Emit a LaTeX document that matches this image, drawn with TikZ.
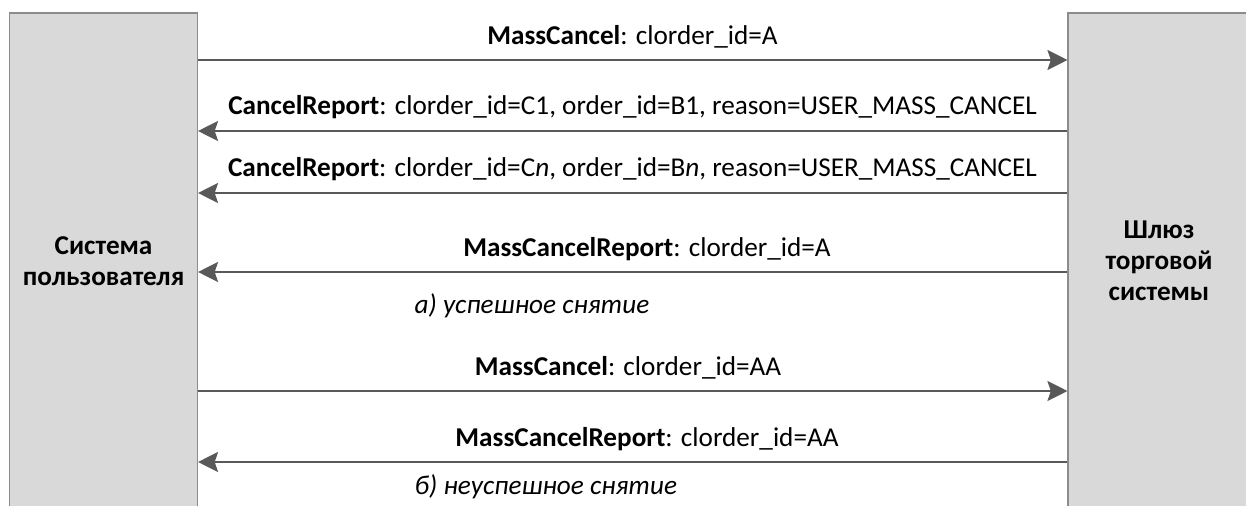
\documentclass[tikz,border=0pt]{standalone}
\usepackage{fontspec}
\setmainfont{Carlito}
\usetikzlibrary{arrows.meta}
\definecolor{boxgray}{HTML}{D9D9D9}
\definecolor{boxline}{HTML}{8C8C8C}
\definecolor{msggray}{HTML}{595959}
\tikzset{
  party/.style={draw=boxline, fill=boxgray, line width=0.8pt, inner sep=0pt},
  partytext/.style={font=\fontsize{20.4}{23.4}\selectfont\bfseries, align=center},
  msg/.style={draw=msggray, line width=1.5pt,
    -{Stealth[length=15pt, width=15pt, inset=2.5pt]}},
  lbl/.style={font=\fontsize{20.4}{24}\selectfont, anchor=base},
  caption/.style={font=\fontsize{20.4}{24}\selectfont\itshape, anchor=base west}
}
\begin{document}
\begin{tikzpicture}[x=0.75pt, y=-0.75pt]
  \useasboundingbox (0,0) rectangle (1246,506);
  \clip (0,0) rectangle (1246,506);
  % participants
  \node[party, minimum width=141pt, minimum height=380.25pt] (user) at (103.5,266.5) {};
  \node[party, minimum width=136.5pt, minimum height=380.25pt] (gate) at (1159,266.5) {};
  \node[partytext] (usertext) at (103.5,261) {Система\\пользователя};
  \node[partytext] (gatetext) at (1159,261) {Шлюз\\торговой\\системы};
  % a) successful cancel
  \draw[msg] (user.east |- 0,60) -- (gate.west |- 0,60);
  \node[lbl] (m1) at (632.5,45) {\textbf{MassCancel}: clorder\_id=A};
  \draw[msg] (gate.west |- 0,131) -- (user.east |- 0,131);
  \node[lbl] (m2) at (632.5,115) {\textbf{CancelReport}: clorder\_id=C1, order\_id=B1, reason=USER\_MASS\_CANCEL};
  \draw[msg] (gate.west |- 0,193) -- (user.east |- 0,193);
  \node[lbl] (m3) at (632.5,177) {\textbf{CancelReport}: clorder\_id=C\textit{n}, order\_id=B\textit{n}, reason=USER\_MASS\_CANCEL};
  \draw[msg] (gate.west |- 0,272) -- (user.east |- 0,272);
  \node[lbl] (m4) at (647,256) {\textbf{MassCancelReport}: clorder\_id=A};
  \node[caption] (capa) at (410,313) {а) успешное снятие};
  % b) unsuccessful cancel
  \draw[msg] (user.east |- 0,391) -- (gate.west |- 0,391);
  \node[lbl] (m5) at (628,375) {\textbf{MassCancel}: clorder\_id=AA};
  \draw[msg] (gate.west |- 0,462) -- (user.east |- 0,462);
  \node[lbl] (m6) at (647,446) {\textbf{MassCancelReport}: clorder\_id=AA};
  \node[caption] (capb) at (410,494) {б) неуспешное снятие};
\end{tikzpicture}
\end{document}
